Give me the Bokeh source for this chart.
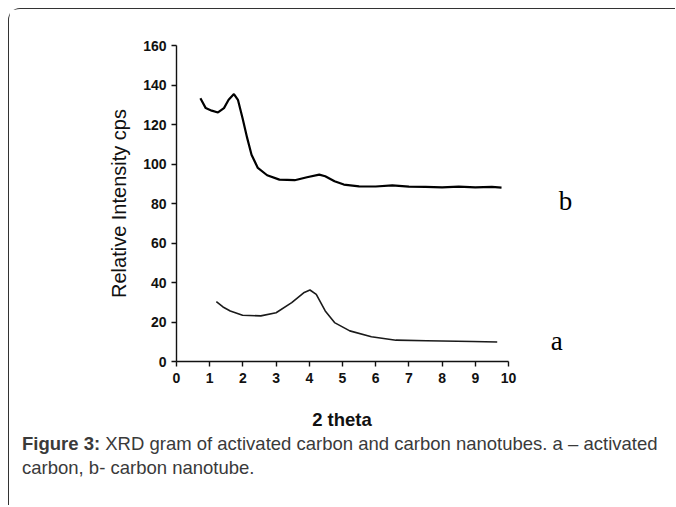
from bokeh.plotting import figure
from bokeh.models import Label, FixedTicker, Range1d, Div
from bokeh.layouts import column
from bokeh.embed import file_html
from bokeh.resources import INLINE

# ---- data ----
x_ticks = [0, 1, 2, 3, 4, 5, 6, 7, 8, 9, 10]
y_ticks = [0, 20, 40, 60, 80, 100, 120, 140, 160]

# curve b: carbon nanotube
b_x = [0.72, 0.88, 1.06, 1.25, 1.43, 1.57, 1.73, 1.85, 1.99, 2.13, 2.26, 2.45,
       2.73, 3.10, 3.56, 3.93, 4.30, 4.48, 4.76, 5.04, 5.50, 6.00, 6.50, 7.00,
       7.50, 8.00, 8.50, 9.00, 9.50, 9.79]
b_y = [133.3, 128.3, 127.0, 126.1, 128.3, 132.5, 135.4, 132.5, 123.2, 113.1, 104.7, 98.0,
       94.3, 92.1, 91.8, 93.3, 94.6, 93.8, 91.3, 89.6, 88.7, 88.6, 89.2, 88.5,
       88.4, 88.2, 88.5, 88.2, 88.4, 88.0]

# curve a: activated carbon
a_x = [1.20, 1.40, 1.62, 1.99, 2.54, 3.00, 3.47, 3.83, 4.02, 4.21, 4.48, 4.76,
       5.22, 5.87, 6.61, 7.53, 8.92, 9.66]
a_y = [30.3, 27.6, 25.6, 23.4, 23.1, 24.7, 29.8, 34.8, 36.2, 34.0, 25.6, 19.7,
       15.5, 12.5, 10.8, 10.5, 10.1, 9.9]

series_labels = ["a", "b"]
label_pos_x = [11.45, 11.72]
label_pos_y = [10.6, 81.5]

x_title = "2 theta"
y_title = "Relative Intensity cps"
caption_bold = "Figure 3:"
caption_rest = "XRD gram of activated carbon and carbon nanotubes. a \u2013 activated"
caption_line2 = "carbon, b- carbon nanotube."

# ---- layout ----
FIG_W, FIG_H = 666, 392
FRAME_L, FRAME_T, FRAME_B = 167, 36, 352   # pixels inside the figure
PX_PER_X = 33.2                            # pixels per x unit
x_end = (FIG_W - FRAME_L) / PX_PER_X
AXIS_W = 10 * PX_PER_X                     # width of the drawn 0..10 axis

p = figure(width=FIG_W, height=FIG_H, x_range=Range1d(0, x_end), y_range=Range1d(0, 160),
           output_backend="svg", toolbar_location=None,
           min_border_left=FRAME_L, min_border_right=0,
           min_border_top=FRAME_T, min_border_bottom=FIG_H - FRAME_B)
p.outline_line_color = None
p.background_fill_color = "white"
p.border_fill_color = "white"
p.xgrid.visible = False
p.ygrid.visible = False

tick_font = "'Liberation Sans Narrow', 'Arial Narrow', 'Liberation Sans', sans-serif"
for ax in (p.xaxis[0], p.yaxis[0]):
    ax.axis_line_color = "#111111"
    ax.axis_line_width = 1.4
    ax.major_tick_line_color = "#111111"
    ax.major_tick_line_width = 1.4
    ax.major_tick_out = 5
    ax.major_tick_in = 0
    ax.minor_tick_line_color = None
    ax.major_label_text_font = tick_font
    ax.major_label_text_font_style = "bold"
    ax.major_label_text_font_size = "14px"
    ax.major_label_text_color = "#111111"
    ax.axis_label_text_font = "'Liberation Sans', Arial, sans-serif"
    ax.axis_label_text_color = "#111111"

p.xaxis.ticker = FixedTicker(ticks=x_ticks)
p.xaxis.bounds = (0, 10)
p.yaxis.ticker = FixedTicker(ticks=y_ticks)
p.xaxis.major_label_standoff = 6
p.yaxis.axis_label = y_title
p.yaxis.axis_label_text_font_style = "normal"
p.yaxis.axis_label_text_font_size = "20px"
p.yaxis.axis_label_standoff = 10
p.yaxis.major_label_standoff = 5

p.line(b_x, b_y, line_color="black", line_width=2.2)
p.line(a_x, a_y, line_color="#1a1a1a", line_width=1.6)

serif = "'Liberation Serif', 'Times New Roman', serif"
for t, lx, ly in zip(series_labels, label_pos_x, label_pos_y):
    p.add_layout(Label(x=lx, y=ly, text=t, text_font=serif, text_font_size="27px",
                       text_align="center", text_baseline="middle", text_color="black"))

# x-axis title (centred under the 0..10 axis) and the figure caption
below = Div(
    text=(f'<div style="margin-left:{FRAME_L}px;width:{AXIS_W:.0f}px;text-align:center;'
          f'font-weight:bold;color:#111111;padding-top:7px;">{x_title}</div>'
          f'<div style="padding-left:13px;color:#3a3a3a;">'
          f'<b>{caption_bold}</b> {caption_rest}<br>{caption_line2}</div>'),
    width=FIG_W, height=104, margin=(0, 0, 0, 0),
    styles={"font-family": "'Liberation Sans', Arial, sans-serif",
            "font-size": "18.5px", "line-height": "24px"},
)

layout = column(p, below, margin=(8, 0, 0, 8), spacing=0,
                styles={"border-left": "1px solid #333", "border-top": "1px solid #333",
                        "border-top-left-radius": "12px"})

open("out.html", "w").write(file_html(layout, INLINE))
